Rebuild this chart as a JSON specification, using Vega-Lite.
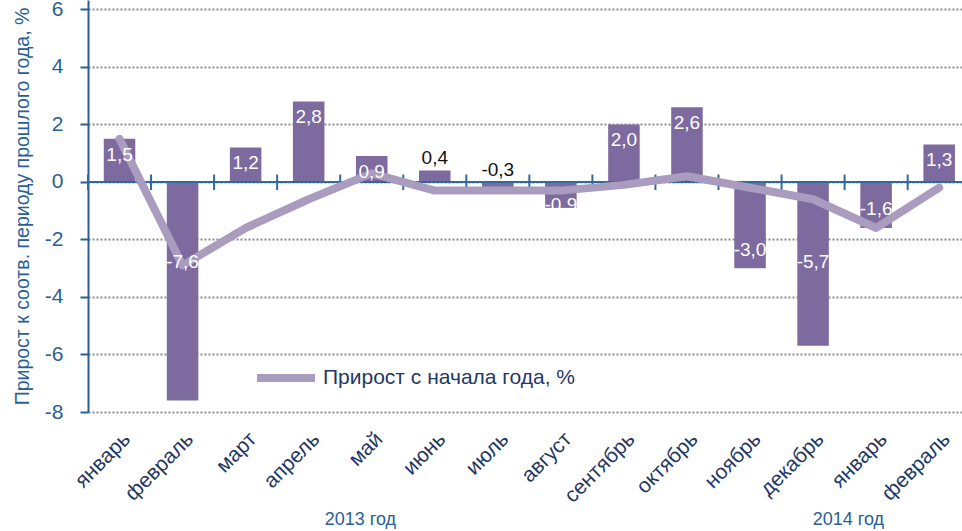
{
  "$schema": "https://vega.github.io/schema/vega-lite/v6.json",
  "autosize": {"type": "none"},
  "width": 874,
  "height": 412,
  "padding": {"left": 88, "top": 0, "right": 0, "bottom": 119},
  "title": {
    "text": "Индекс промышленного производства",
    "fontSize": 21,
    "fontWeight": "normal",
    "color": "#1F3864",
    "baseline": "alphabetic",
    "offset": 0,
    "dy": 5,
    "anchor": "middle"
  },
  "config": {
    "font": "Liberation Sans",
    "view": {"stroke": null},
    "locale": {
      "number": {"decimal": ",", "thousands": " ", "grouping": [3], "currency": ["", ""], "minus": "-"}
    }
  },
  "datasets": {
    "main": [
      {"period": "январь 2013", "value": 1.5, "cum": 1.5},
      {"period": "февраль 2013", "value": -7.6, "cum": -2.9},
      {"period": "март 2013", "value": 1.2, "cum": -1.6},
      {"period": "апрель 2013", "value": 2.8, "cum": -0.6},
      {"period": "май 2013", "value": 0.9, "cum": 0.3},
      {"period": "июнь 2013", "value": 0.4, "cum": -0.3},
      {"period": "июль 2013", "value": -0.3, "cum": -0.3},
      {"period": "август 2013", "value": -0.9, "cum": -0.3},
      {"period": "сентябрь 2013", "value": 2.0, "cum": -0.1},
      {"period": "октябрь 2013", "value": 2.6, "cum": 0.2},
      {"period": "ноябрь 2013", "value": -3.0, "cum": -0.2},
      {"period": "декабрь 2013", "value": -5.7, "cum": -0.6},
      {"period": "январь 2014", "value": -1.6, "cum": -1.6},
      {"period": "февраль 2014", "value": 1.3, "cum": -0.2}
    ],
    "years": [
      {"period": "май 2013", "label": "2013 год"},
      {"period": "январь 2014", "label": "2014 год"}
    ]
  },
  "data": {"name": "main"},
  "layer": [
    {
      "mark": {"type": "bar", "width": {"band": 0.5}, "color": "#7D6A9F"},
      "encoding": {
        "x": {
          "field": "period",
          "type": "nominal",
          "scale": {
            "domain": ["январь 2013", "февраль 2013", "март 2013", "апрель 2013", "май 2013", "июнь 2013", "июль 2013", "август 2013", "сентябрь 2013", "октябрь 2013", "ноябрь 2013", "декабрь 2013", "январь 2014", "февраль 2014"],
            "range": [0, 882.7],
            "paddingInner": 0,
            "paddingOuter": 0
          },
          "axis": {
            "title": null,
            "domain": false,
            "ticks": false,
            "grid": false,
            "labelAngle": -45,
            "labelFontSize": 21,
            "labelColor": "#1F3864",
            "labelPadding": 16,
            "labelExpr": "split(datum.label, ' ')[0]"
          }
        },
        "y": {
          "field": "value",
          "type": "quantitative",
          "scale": {"domain": [-8, 6.33], "nice": false, "zero": false},
          "axis": {
            "title": "Прирост к соотв. периоду прошлого года, %",
            "titleFontSize": 19.5,
            "titleFontWeight": "normal",
            "titleColor": "#2A5F93",
            "titlePadding": 12,
            "values": [-8, -6, -4, -2, 0, 2, 4, 6],
            "labelFontSize": 21,
            "labelColor": "#2A5F93",
            "labelPadding": 17,
            "domain": true,
            "domainColor": "#2A5F93",
            "domainWidth": 2,
            "ticks": true,
            "tickSize": 8,
            "tickWidth": 2,
            "tickColor": "#2A5F93",
            "grid": true,
            "gridColor": "#8C8C8C",
            "gridDash": [2, 2],
            "gridWidth": 2
          }
        }
      }
    },
    {
      "mark": {"type": "rule", "color": "#2E6A9E", "strokeWidth": 2},
      "encoding": {"y": {"datum": 0}}
    },
    {
      "mark": {"type": "rule", "color": "#2E6A9E", "strokeWidth": 2},
      "encoding": {
        "x": {"field": "period", "type": "nominal", "bandPosition": 0},
        "y": {"datum": 0.26},
        "y2": {"datum": -0.28}
      }
    },
    {
      "mark": {"type": "line", "strokeWidth": 8, "strokeCap": "round", "strokeJoin": "round"},
      "encoding": {
        "x": {"field": "period", "type": "nominal"},
        "y": {"field": "cum", "type": "quantitative"},
        "stroke": {
          "datum": "Прирост с начала года, %",
          "scale": {"range": ["#A99CBF"]},
          "legend": {
            "orient": "none",
            "legendX": 165,
            "legendY": 345,
            "title": null,
            "padding": 0,
            "symbolType": "stroke",
            "symbolSize": 3364,
            "symbolStrokeWidth": 8,
            "labelFontSize": 21,
            "labelColor": "#1F3864",
            "labelOffset": 4,
            "labelLimit": 0
          }
        }
      }
    },
    {
      "transform": [
        {"filter": "abs(datum.value) >= 0.5"},
        {"calculate": "datum.value >= 0 ? datum.value - 0.55 : max(min(datum.value + 0.65, -0.8), -2.8)", "as": "ly"}
      ],
      "mark": {"type": "text", "color": "white", "fontSize": 19, "baseline": "middle"},
      "encoding": {
        "x": {"field": "period", "type": "nominal"},
        "y": {"field": "ly", "type": "quantitative"},
        "text": {"field": "value", "type": "quantitative", "format": ".1f"}
      }
    },
    {
      "transform": [
        {"filter": "abs(datum.value) < 0.5"},
        {"calculate": "max(datum.value, 0)", "as": "ly"}
      ],
      "mark": {"type": "text", "color": "#111111", "fontSize": 19, "baseline": "bottom", "dy": -2},
      "encoding": {
        "x": {"field": "period", "type": "nominal"},
        "y": {"field": "ly", "type": "quantitative"},
        "text": {"field": "value", "type": "quantitative", "format": ".1f"}
      }
    },
    {
      "data": {"name": "years"},
      "transform": [{"filter": "datum.label == '2013 год'"}],
      "mark": {"type": "text", "color": "#2A5F93", "fontSize": 18, "baseline": "middle"},
      "encoding": {
        "x": {"field": "period", "type": "nominal", "bandPosition": 0.32},
        "y": {"datum": -11.77},
        "text": {"field": "label"}
      }
    },
    {
      "data": {"name": "years"},
      "transform": [{"filter": "datum.label == '2014 год'"}],
      "mark": {"type": "text", "color": "#2A5F93", "fontSize": 18, "baseline": "middle"},
      "encoding": {
        "x": {"field": "period", "type": "nominal", "bandPosition": 0.06},
        "y": {"datum": -11.77},
        "text": {"field": "label"}
      }
    }
  ]
}
